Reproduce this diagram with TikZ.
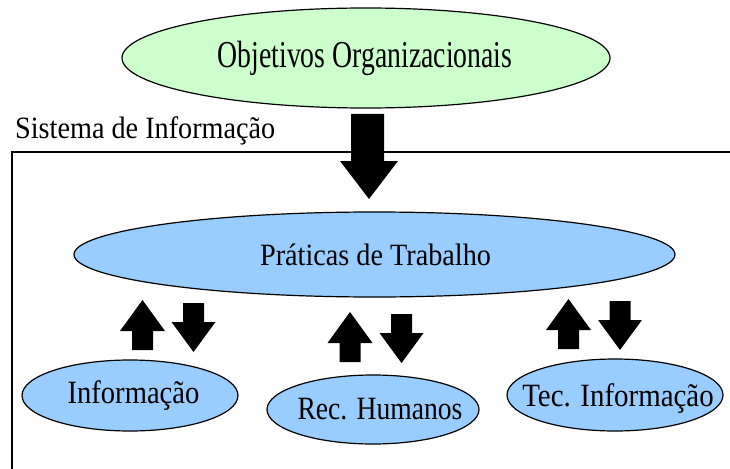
\documentclass[tikz,border=0pt]{standalone}
\usepackage{fontspec}
\setmainfont{Liberation Serif}
\usetikzlibrary{shapes.geometric}
\definecolor{okgreen}{HTML}{CCFFCC}
\definecolor{boxblue}{HTML}{99CCFF}
\tikzset{
  oval/.style={ellipse, draw=black, line width=1.2pt, inner sep=0pt},
  txt/.style={inner sep=0pt, anchor=base, text=black},
  framelines/.style={line width=1.4pt, draw=black},
}
\newcommand{\sz}[3]{\scalebox{#2}[1]{\fontsize{#1}{#1}\selectfont #3}}
\newcommand{\arrowUpBlk}[2]{\fill[black] (#1,#2) -- ++(22.5,31) -- ++(-12,0) -- ++(0,19) -- ++(-21,0) -- ++(0,-19) -- ++(-12,0) -- cycle;}
\newcommand{\arrowDnBlk}[2]{\fill[black] (#1,#2) ++(-10.5,0) -- ++(21,0) -- ++(0,19) -- ++(11.5,0) -- ++(-22,30) -- ++(-22,-30) -- ++(11.5,0) -- cycle;}
\begin{document}
\begin{tikzpicture}[x=1pt,y=-1pt]
\useasboundingbox (0,0) rectangle (730,468);
% frame
\draw[framelines] (731,152) -- (12,152) -- (12,469);
\node[txt, anchor=base west] (sis) at (15,138) {\sz{31}{0.91}{Sistema de Informação}};
% top ellipse
\node[oval, fill=okgreen, minimum width=488pt, minimum height=100pt] (obj) at (366,58) {};
\node[txt] (objT) at (365,68) {\sz{38}{0.73}{Objetivos Organizacionais}};
% big arrow
\fill[black] (351,114) -- (384,114) -- (384,161) -- (398,161) -- (369,199) -- (340,161) -- (351,161) -- cycle;
% middle ellipse
\node[oval, fill=boxblue, minimum width=601pt, minimum height=85pt] (prat) at (374.5,254.5) {};
\node[txt] (pratT) at (375.5,265) {\sz{31}{0.91}{Práticas de Trabalho}};
% bottom ellipses
\node[oval, fill=boxblue, minimum width=216pt, minimum height=71pt] (info) at (130,395.5) {};
\node[txt] (infoT) at (133.5,403) {\sz{32.5}{0.88}{Informação}};
\node[oval, fill=boxblue, minimum width=212pt, minimum height=69pt] (rec) at (373,409.5) {};
\node[txt] (recT) at (380,419) {\sz{32.5}{0.85}{Rec. Humanos}};
\node[oval, fill=boxblue, minimum width=216pt, minimum height=72pt] (tec) at (615,395) {};
\node[txt] (tecT) at (618,406) {\sz{32.5}{0.89}{Tec. Informação}};
% small arrows
\arrowUpBlk{142.5}{300}
\arrowDnBlk{193.5}{303}
\arrowUpBlk{350}{312}
\arrowDnBlk{401.5}{314}
\arrowUpBlk{568.5}{299}
\arrowDnBlk{620}{301}
\end{tikzpicture}
\end{document}
